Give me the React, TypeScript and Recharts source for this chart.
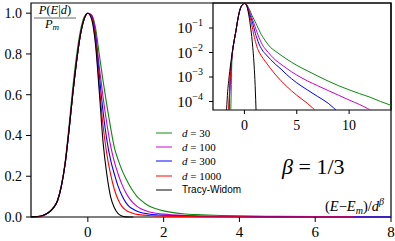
import {
  LineChart, Line, XAxis, YAxis, ReferenceArea, Legend,
} from 'recharts';

// ─── data ───────────────────────────────────────────────────
const X = [
  -1.8, -1.7, -1.6, -1.5, -1.4, -1.3, -1.2, -1.1, -1.0, -0.9,
  -0.8, -0.7, -0.6, -0.5, -0.4, -0.3, -0.2, -0.1, 0, 0.1,
  0.2, 0.3, 0.4, 0.5, 0.6, 0.7, 0.8, 0.9, 1.0, 1.1,
  1.2, 1.3, 1.4, 1.6, 1.8, 2.0, 2.5, 3, 3.5, 4,
  5, 6, 7, 8, 9, 10, 11, 12, 13, 14,
];

const TW = [
  1e-5, 5e-5, 2.5e-4, 7e-4, 0.0017, 0.0038, 0.0078, 0.015, 0.027, 0.047,
  0.08, 0.15, 0.26, 0.42, 0.6, 0.76, 0.89, 0.97, 1.0, 0.97,
  0.85, 0.62, 0.37, 0.21, 0.1, 0.045, 0.016, 0.0045, 8e-4, 6e-5,
  2e-6, null, null, null, null, null, null, null, null, null,
  null, null, null, null, null, null, null, null, null, null,
];

const D1000 = [
  null, null, 3e-6, 5e-5, 4e-4, 0.0019, 0.0065, 0.015, 0.027, 0.047,
  0.08, 0.15, 0.26, 0.42, 0.6, 0.76, 0.89, 0.97, 1.0, 0.98,
  0.87, 0.65, 0.45, 0.31, 0.21, 0.135, 0.085, 0.052, 0.034, 0.024,
  0.017, 0.013, 0.0105, 0.0075, 0.0056, 0.0043, 0.0022, 0.0012, 7e-4, 4.3e-4,
  1.8e-4, 8.5e-5, 3.5e-5, null, null, null, null, null, null, null,
];

const D300 = [
  null, null, 2e-6, 2e-5, 3e-4, 0.0018, 0.0065, 0.015, 0.027, 0.047,
  0.08, 0.15, 0.26, 0.42, 0.6, 0.76, 0.89, 0.97, 1.0, 0.985,
  0.89, 0.7, 0.52, 0.38, 0.28, 0.21, 0.15, 0.105, 0.072, 0.05,
  0.038, 0.028, 0.022, 0.015, 0.011, 0.0088, 0.0052, 0.0032, 0.0021, 0.0013,
  5.8e-4, 3e-4, 1.6e-4, 8.5e-5, 3.5e-5, null, null, null, null, null,
];

const D100 = [
  null, null, 2e-6, 1.5e-5, 2.5e-4, 0.0017, 0.0063, 0.015, 0.027, 0.047,
  0.08, 0.15, 0.26, 0.42, 0.6, 0.76, 0.89, 0.97, 1.0, 0.99,
  0.91, 0.74, 0.59, 0.46, 0.35, 0.27, 0.21, 0.16, 0.12, 0.09,
  0.068, 0.052, 0.04, 0.026, 0.018, 0.014, 0.0078, 0.0048, 0.0033, 0.0023,
  0.0012, 7e-4, 4.4e-4, 2.8e-4, 1.8e-4, 1.15e-4, 7.5e-5, 4.5e-5, 2e-5, null,
];

const D30 = [
  null, null, null, null, 5e-6, 5e-5, 0.004, 0.014, 0.027, 0.048,
  0.083, 0.155, 0.27, 0.44, 0.63, 0.79, 0.91, 0.98, 1.0, 0.99,
  0.93, 0.8, 0.67, 0.55, 0.44, 0.34, 0.28, 0.23, 0.19, 0.155,
  0.125, 0.1, 0.083, 0.055, 0.04, 0.03, 0.016, 0.011, 0.0077, 0.0055,
  0.003, 0.0018, 0.0011, 6.8e-4, 4.4e-4, 3e-4, 2.1e-4, 1.5e-4, 1e-4, 7e-5,
];

const MAIN_X_TICKS = [0, 2, 4, 6, 8];
const MAIN_Y_TICKS = [0, 0.2, 0.4, 0.6, 0.8, 1.0];
const INSET_X_TICKS = [0, 5, 10];
const INSET_Y_TICKS = [1e-1, 1e-2, 1e-3, 1e-4];

const SERIES = [
  { key: 'g', label: '30', color: '#0a8a0a' },
  { key: 'm', label: '100', color: '#cc00cc' },
  { key: 'b', label: '300', color: '#0000ff' },
  { key: 'r', label: '1000', color: '#ff0000' },
  { key: 'tw', label: 'Tracy-Widom', color: '#000000' },
];

const rows = X.map((x, i) => ({
  x, g: D30[i], m: D100[i], b: D300[i], r: D1000[i], tw: TW[i],
}));

const SERIF = '"Liberation Serif", "DejaVu Serif", serif';
const tickStyle = { fontSize: 14, fill: '#000', fontFamily: SERIF };

// ─── inset y tick: 10^{-n} ──────────────────────────────────
function PowTick({ x, y, payload }: { x?: number; y?: number; payload?: { value: number } }) {
  const n = Math.round(Math.log10(payload?.value ?? 1));
  return (
    <text x={x} y={y} textAnchor="end" fontFamily={SERIF} fill="#000" dy={5}>
      <tspan fontSize={15}>10</tspan>
      <tspan fontSize={10} dy={-7}>{'\u2212' + Math.abs(n)}</tspan>
    </text>
  );
}

function LegendBox() {
  return (
    <div style={{ fontFamily: SERIF, fontSize: 11, color: '#000' }}>
      {SERIES.map(s => (
        <div key={s.key} style={{ height: 14.2, display: 'flex', alignItems: 'center' }}>
          <svg width={27} height={4}>
            <line x1={1} x2={17} y1={2} y2={2} stroke={s.color} strokeOpacity={0.65} strokeWidth={1.5} />
          </svg>
          {s.key === 'tw'
            ? <span style={{ fontFamily: '"Liberation Sans", sans-serif', fontSize: 10 }}>{s.label}</span>
            : <span style={{ fontFamily: SERIF }}><i>d</i> = {s.label}</span>}
        </div>
      ))}
    </div>
  );
}

export default function App() {
  return (
    <div style={{ position: 'fixed', left: 0, top: 0, width: 395, height: 241, background: '#fff', fontFamily: SERIF }}>
      <LineChart width={395} height={241} data={rows} margin={{ top: 3, right: 4, bottom: 0, left: 0 }}
        style={{ fontFamily: SERIF }}>
        <XAxis
          dataKey="x" type="number" domain={[-1.5, 8]} ticks={MAIN_X_TICKS}
          allowDataOverflow height={24} tickSize={5} tickMargin={4}
          axisLine={false} tickLine={{ stroke: '#000' }} tick={{ ...tickStyle, fontSize: 15 }}
        />
        <YAxis
          type="number" domain={[0, 1.05]} ticks={MAIN_Y_TICKS} width={31}
          tickSize={5} tickMargin={4} axisLine={false} tickLine={{ stroke: '#000' }}
          tick={tickStyle} tickFormatter={(v: number) => v.toFixed(1)}
        />
        <ReferenceArea x1={-1.5} x2={8} y1={0} y2={1.05} fill="none" stroke="#000" strokeWidth={1.2} />
        {SERIES.map(s => (
          <Line key={s.key} dataKey={s.key} stroke={s.color} strokeWidth={1.1}
            dot={false} type="monotone" isAnimationActive={false} />
        ))}
        <Legend
          layout="horizontal" verticalAlign="middle" align="center"
          content={() => <LegendBox />}
          wrapperStyle={{ left: 155, top: 126, width: 100, height: 72 }}
        />
      </LineChart>

      {/* inset, log scale */}
      <div style={{ position: 'absolute', left: 170, top: 0 }}>
        <LineChart width={225} height={135} data={rows} margin={{ top: 3, right: 4, bottom: 0, left: 0 }}
          style={{ fontFamily: SERIF }}>
          <XAxis
            dataKey="x" type="number" domain={[-3, 14]} ticks={INSET_X_TICKS}
            allowDataOverflow height={25} tickSize={4} tickMargin={6}
            axisLine={false} tickLine={{ stroke: '#000' }} tick={tickStyle}
          />
          <YAxis
            type="number" scale="log" domain={[4.5e-5, 1.05]} ticks={INSET_Y_TICKS}
            allowDataOverflow width={43} tickSize={4} tickMargin={6}
            axisLine={false} tickLine={{ stroke: '#000' }} tick={<PowTick />}
          />
          <ReferenceArea x1={-3} x2={14} y1={4.5e-5} y2={1.05} fill="none" stroke="#000" strokeWidth={1.2} />
          {SERIES.map(s => (
            <Line key={s.key} dataKey={s.key} stroke={s.color} strokeWidth={1}
              dot={false} type="monotone" isAnimationActive={false} />
          ))}
        </LineChart>
      </div>

      {/* text annotations */}
      <svg width={395} height={241} style={{ position: 'absolute', left: 0, top: 0, pointerEvents: 'none' }}>
        <text x={55} y={14} textAnchor="middle" fontSize={12.5} fontFamily={SERIF} fill="#000">
          <tspan fontStyle="italic">P</tspan>(<tspan fontStyle="italic">E</tspan>|<tspan fontStyle="italic">d</tspan>)
        </text>
        <line x1={34} x2={76} y1={18} y2={18} stroke="#555" strokeWidth={0.9} />
        <text x={52} y={28} textAnchor="middle" fontSize={12.5} fontFamily={SERIF} fill="#000">
          <tspan fontStyle="italic">P</tspan>
          <tspan fontStyle="italic" fontSize={9} dy={2}>m</tspan>
        </text>
        <text x={282} y={174} fontSize={22} fontFamily={SERIF} fill="#000">
          <tspan fontStyle="italic">β</tspan> = 1/3
        </text>
        <text x={384} y={210.5} textAnchor="end" fontSize={14.5} fontFamily={SERIF} fill="#000">
          (<tspan fontStyle="italic">E</tspan>{'\u2212'}<tspan fontStyle="italic">E</tspan>
          <tspan fontStyle="italic" fontSize={10} dy={3}>m</tspan>
          <tspan dy={-3}>)/</tspan><tspan fontStyle="italic">d</tspan>
          <tspan fontStyle="italic" fontSize={10} dy={-6}>β</tspan>
        </text>
      </svg>
    </div>
  );
}
